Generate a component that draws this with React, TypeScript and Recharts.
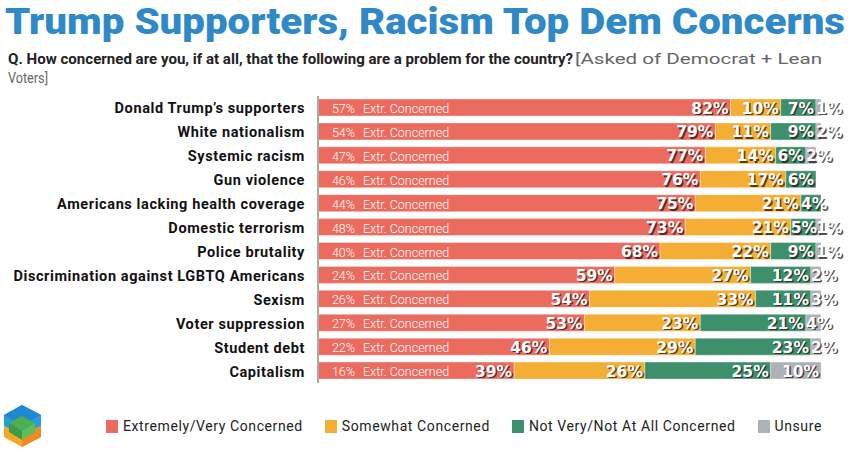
import React from 'react';
import { BarChart, Bar, XAxis, YAxis, LabelList } from 'recharts';

const categories = [
  'Donald Trump’s supporters',
  'White nationalism',
  'Systemic racism',
  'Gun violence',
  'Americans lacking health coverage',
  'Domestic terrorism',
  'Police brutality',
  'Discrimination against LGBTQ Americans',
  'Sexism',
  'Voter suppression',
  'Student debt',
  'Capitalism',
];
const extremely = [57, 54, 47, 46, 44, 48, 40, 24, 26, 27, 22, 16];
const concerned = [82, 79, 77, 76, 75, 73, 68, 59, 54, 53, 46, 39];
const somewhat = [10, 11, 14, 17, 21, 21, 22, 27, 33, 23, 29, 26];
const notConcerned = [7, 9, 6, 6, 4, 5, 9, 12, 11, 21, 23, 25];
const unsure = [1, 2, 2, 0, 0, 1, 1, 2, 3, 4, 2, 10];

const seriesNames = ['Extremely/Very Concerned', 'Somewhat Concerned', 'Not Very/Not At All Concerned', 'Unsure'];
const seriesColors = ['#EC6B5F', '#F5AE34', '#3E8F6C', '#ADB2B8'];

const title = 'Trump Supporters, Racism Top Dem Concerns';
const questionText = 'Q. How concerned are you, if at all, that the following are a problem for the country?';
const noteLine1 = '[Asked of Democrat + Lean';
const noteLine2 = 'Voters]';

const data = categories.map((name, i) => ({
  name,
  extremely: extremely[i],
  concerned: concerned[i],
  somewhat: somewhat[i],
  notConcerned: notConcerned[i],
  unsure: unsure[i],
}));

const LABEL_FONT = '"DejaVu Sans", sans-serif';
const LABEL_SIZE = 15.5;

const SegLabel = (props: any) => {
  const x = Number(props.x);
  const y = Number(props.y);
  const width = Number(props.width);
  const height = Number(props.height);
  const value = Number(props.value);
  if (!value) return null;
  const text = `${value}%`;
  const tw = ((text.length - 1) * 0.696 + 1.0) * LABEL_SIZE;
  let anchor: 'start' | 'end' = 'end';
  let tx = x + width - 2;
  if (tw > width - 2) {
    anchor = 'start';
    tx = x;
  }
  const ty = y + height / 2 + 1;
  return (
    <g>
      <text x={tx + 1.5} y={ty + 1.5} textAnchor={anchor} dominantBaseline="central"
        fontFamily={LABEL_FONT} fontWeight={700} fontSize={LABEL_SIZE} fill="rgba(40,20,20,0.75)">{text}</text>
      <text x={tx} y={ty} textAnchor={anchor} dominantBaseline="central"
        fontFamily={LABEL_FONT} fontWeight={700} fontSize={LABEL_SIZE} fill="#ffffff">{text}</text>
    </g>
  );
};

const ExtLabel = (props: any) => {
  const x = Number(props.x);
  const y = Number(props.y);
  const height = Number(props.height);
  const value = props.value;
  const ty = y + height / 2 + 1;
  return (
    <g fontFamily="Roboto, sans-serif" fontWeight={300} fontSize={12.5} fill="#ffffff">
      <text x={x + 37} y={ty} textAnchor="end" dominantBaseline="central">{`${value}%`}</text>
      <text x={x + 45} y={ty} textAnchor="start" dominantBaseline="central">Extr. Concerned</text>
    </g>
  );
};

const CatTick = (props: any) => {
  const { y, payload } = props;
  return (
    <text x={305} y={Number(y) + 1} textAnchor="end" dominantBaseline="central"
      fontFamily="Roboto, sans-serif" fontWeight={700} fontSize={14.5} letterSpacing={0.6} fill="#111">
      {payload.value}
    </text>
  );
};

const LegendBox = () => (
  <div style={{ position: 'absolute', left: 106, top: 418, display: 'flex', alignItems: 'center',
    fontFamily: 'Roboto, sans-serif', fontSize: 14, letterSpacing: 0.6, color: '#222', whiteSpace: 'nowrap' }}>
    {seriesNames.map((n, i) => (
      <div key={n} style={{ display: 'flex', alignItems: 'center', marginRight: 22 }}>
        <span style={{ display: 'inline-block', width: 12, height: 13, background: seriesColors[i], marginRight: 5 }} />
        <span>{n}</span>
      </div>
    ))}
  </div>
);

const Logo = () => (
  <svg width={50} height={50} style={{ position: 'absolute', left: 0, top: 400 }}>
    <polygon points="22,5 41,15 41,26 22,36 4,26 4,15" fill="#2D9BDB" />
    <polygon points="22,5 41,15 22,25 4,15" fill="#1E88D0" />
    <polygon points="4,26 22,36 41,26 41,37 22,47 4,37" fill="#F7A628" />
    <polygon points="22,36 41,26 41,37 22,47" fill="#F08A24" />
    <polygon points="22,16 35,23 22,31 9,23" fill="#4CAF50" />
    <polygon points="9,23 22,31 22,40 9,32" fill="#3E9B47" />
    <polygon points="35,23 22,31 22,40 35,32" fill="#5CBF5A" />
  </svg>
);

export default function App() {
  return (
    <div style={{ position: 'absolute', left: 0, top: 0, width: 850, height: 451, background: '#fff', overflow: 'hidden' }}>
      <svg width={850} height={95} style={{ position: 'absolute', left: 0, top: 0 }}>
        <text x={5} y={34} fontFamily="Roboto, sans-serif" fontWeight={900} fontSize={37} fill="#3089C7"
          textLength={840} lengthAdjust="spacingAndGlyphs">{title}</text>
        <text x={8} y={64} fontFamily="Roboto, sans-serif" fontWeight={700} fontSize={14} fill="#222"
          textLength={565} lengthAdjust="spacingAndGlyphs">{questionText}</text>
        <text x={575} y={64} fontFamily="Roboto, sans-serif" fontWeight={400} fontSize={14} fill="#666"
          textLength={247} lengthAdjust="spacingAndGlyphs">{noteLine1}</text>
        <text x={8} y={83} fontFamily="Roboto, sans-serif" fontWeight={400} fontSize={14} fill="#666"
          textLength={40} lengthAdjust="spacingAndGlyphs">{noteLine2}</text>
      </svg>
      <div style={{ position: 'absolute', left: 0, top: 0 }}>
        <BarChart width={850} height={451} data={data} layout="vertical"
          margin={{ top: 96, right: 29, bottom: 68, left: 0 }} barCategoryGap={0}>
          <XAxis type="number" hide domain={[0, 100]} allowDataOverflow />
          <YAxis type="category" dataKey="name" width={318} axisLine={{ stroke: '#AAAAAA', strokeWidth: 2 }}
            tickLine={false} tick={<CatTick />} interval={0} />
          <Bar dataKey="concerned" name={seriesNames[0]} stackId="a" fill={seriesColors[0]} barSize={17}
            stroke="rgba(255,255,255,0.35)" strokeWidth={1} isAnimationActive={false}>
            <LabelList dataKey="extremely" content={<ExtLabel />} />
            <LabelList dataKey="concerned" content={<SegLabel />} />
          </Bar>
          <Bar dataKey="somewhat" name={seriesNames[1]} stackId="a" fill={seriesColors[1]} barSize={17}
            stroke="rgba(255,255,255,0.35)" strokeWidth={1} isAnimationActive={false}>
            <LabelList dataKey="somewhat" content={<SegLabel />} />
          </Bar>
          <Bar dataKey="notConcerned" name={seriesNames[2]} stackId="a" fill={seriesColors[2]} barSize={17}
            stroke="rgba(255,255,255,0.35)" strokeWidth={1} isAnimationActive={false}>
            <LabelList dataKey="notConcerned" content={<SegLabel />} />
          </Bar>
          <Bar dataKey="unsure" name={seriesNames[3]} stackId="a" fill={seriesColors[3]} barSize={17}
            stroke="rgba(255,255,255,0.35)" strokeWidth={1} isAnimationActive={false}>
            <LabelList dataKey="unsure" content={<SegLabel />} />
          </Bar>
        </BarChart>
      </div>
      <LegendBox />
      <Logo />
    </div>
  );
}
